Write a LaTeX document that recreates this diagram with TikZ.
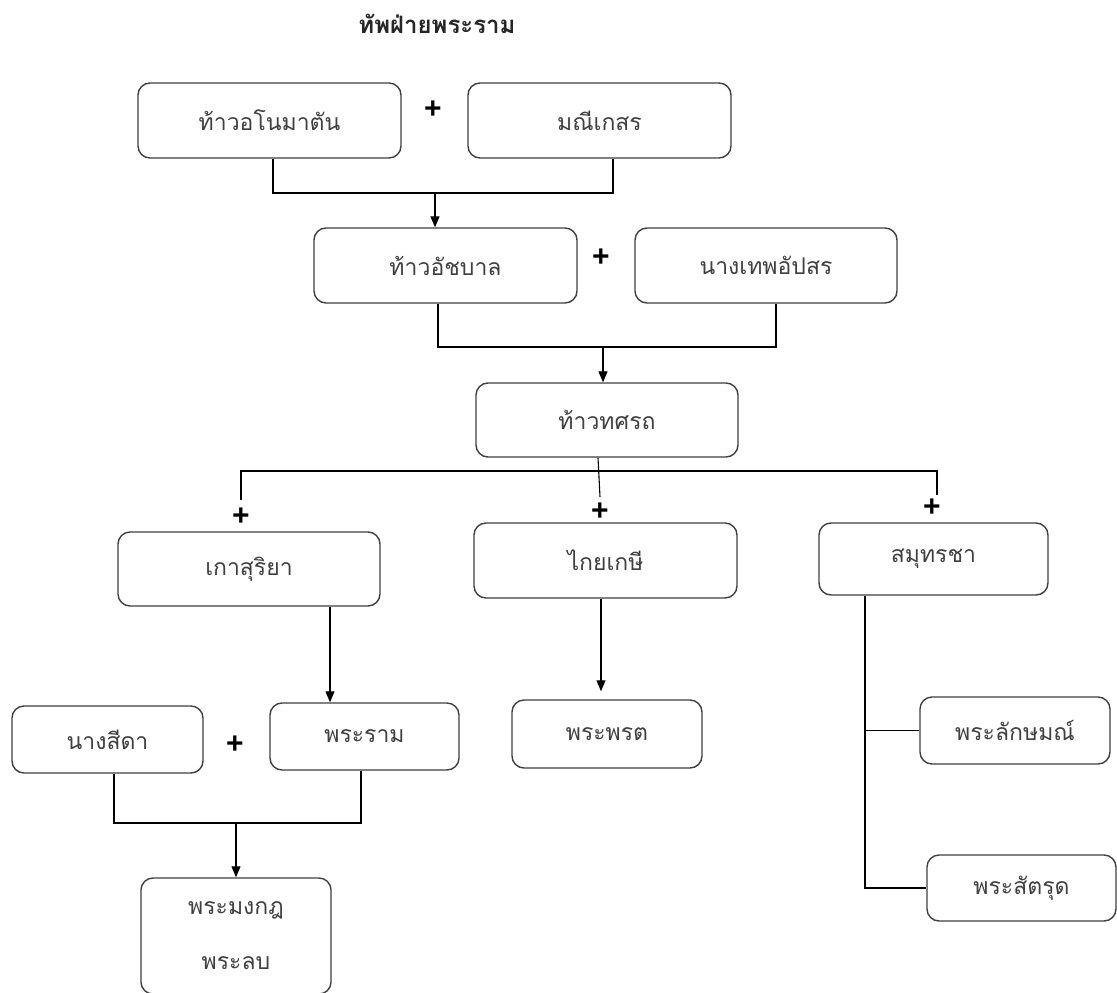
\documentclass[tikz,border=0pt]{standalone}
\usepackage{fontspec}
\newfontfamily\thai[Script=Thai]{Loma}
\newfontfamily\plusfont{Liberation Sans}
\usetikzlibrary{arrows.meta}
\definecolor{boxgray}{HTML}{404040}
\tikzset{
  box/.style={draw=boxgray, line width=1.4pt, rounded corners=12pt, fill=white,
    font=\thai\fontsize{23}{27}\selectfont, text=boxgray, inner sep=0pt, align=center},
  ln/.style={draw=black, line width=1.1pt},
  arr/.style={ln, -{Triangle[length=11pt,width=9pt]}},
  plus/.style={font=\plusfont\bfseries\fontsize{30}{30}\selectfont, inner sep=0pt},
  title/.style={font=\thai\bfseries\fontsize{24}{28}\selectfont, text=black!85}
}
\begin{document}
\begin{tikzpicture}[x=1pt,y=-1pt]
\useasboundingbox (0,0) rectangle (1117,993);
\node[title] (t) at (437,24) {ทัพฝ่ายพระราม};
\node[box, minimum width=263, minimum height=75] (b1) at (269.5,120.5) {ท้าวอโนมาตัน};
\node[box, minimum width=263, minimum height=75] (b2) at (599.5,120.5) {มณีเกสร};
\node[plus] (p1) at (433,110) {+};
\node[box, minimum width=263, minimum height=75] (b3) at (445.5,265.5) {ท้าวอัชบาล};
\node[box, minimum width=262, minimum height=75] (b4) at (766,265.5) {นางเทพอัปสร};
\node[plus] (p2) at (601,258) {+};
\node[box, minimum width=262, minimum height=74] (b5) at (607,420) {ท้าวทศรถ};
\node[box, minimum width=262, minimum height=74] (b6) at (249,569) {เกาสุริยา};
\node[box, minimum width=263, minimum height=75] (b7) at (605.5,560.5) {ไกยเกษี};
\node[box, minimum width=229, minimum height=72] (b8) at (933.5,559) {สมุทรชา};
\node[plus] (p3) at (241,517) {+};
\node[plus] (p4) at (600,512) {+};
\node[plus] (p5) at (932,508) {+};
\node[box, minimum width=191, minimum height=67] (b9) at (107.5,739.5) {นางสีดา};
\node[box, minimum width=189, minimum height=67] (b10) at (364.5,736.5) {พระราม};
\node[plus] (p6) at (235,745) {+};
\node[box, minimum width=190, minimum height=116, font=\thai\fontsize{23}{55}\selectfont] (b11) at (236,936) {พระมงกฎ\\พระลบ};
\node[box, minimum width=190, minimum height=68] (b12) at (607,734) {พระพรต};
\node[box, minimum width=190, minimum height=67] (b14) at (1015,730.5) {พระลักษมณ์};
\node[box, minimum width=189, minimum height=66] (b15) at (1021.5,888) {พระสัตรุด};
% generation 1 -> 2
\coordinate (j1) at (435,193);
\draw[ln] ([xshift=3.5]b1.south) |- (j1) -| ([xshift=13.5]b2.south);
\draw[arr] (j1) -- (j1 |- b3.north);
% generation 2 -> 3
\coordinate (j2) at (603,347);
\draw[ln] ([xshift=-7.5]b3.south) |- (j2) -| ([xshift=10]b4.south);
\draw[arr] (j2) -- (j2 |- b5.north);
% wives of Thotsarot
\coordinate (hL) at (241,471);
\coordinate (hR) at (937,471);
\coordinate (dL) at (241,500);
\coordinate (dR) at (937,495);
\coordinate (dM) at (600,497);
\draw[ln] (dL) -- (hL) -- (hR) -- (dR);
\draw[ln] ([xshift=-9]b5.south) -- (dM);
% children
\draw[arr] ([xshift=81]b6.south) -- ([xshift=81]b6.south |- b10.north);
\draw[arr, shorten >=8pt] ([xshift=-4.5]b7.south) -- ([xshift=-4.5]b7.south |- b12.north);
\coordinate (v8) at ([xshift=-68.5]b8.south);
\draw[ln] (v8) |- (b15.west);
\draw[ln] (b14.west) -- (b14.west -| v8);
% Rama + Sita
\coordinate (j3) at (236,823);
\draw[ln] ([xshift=6.5]b9.south) |- (j3) -| ([xshift=-3.5]b10.south);
\draw[arr] (j3) -- (j3 |- b11.north);
\end{tikzpicture}
\end{document}
